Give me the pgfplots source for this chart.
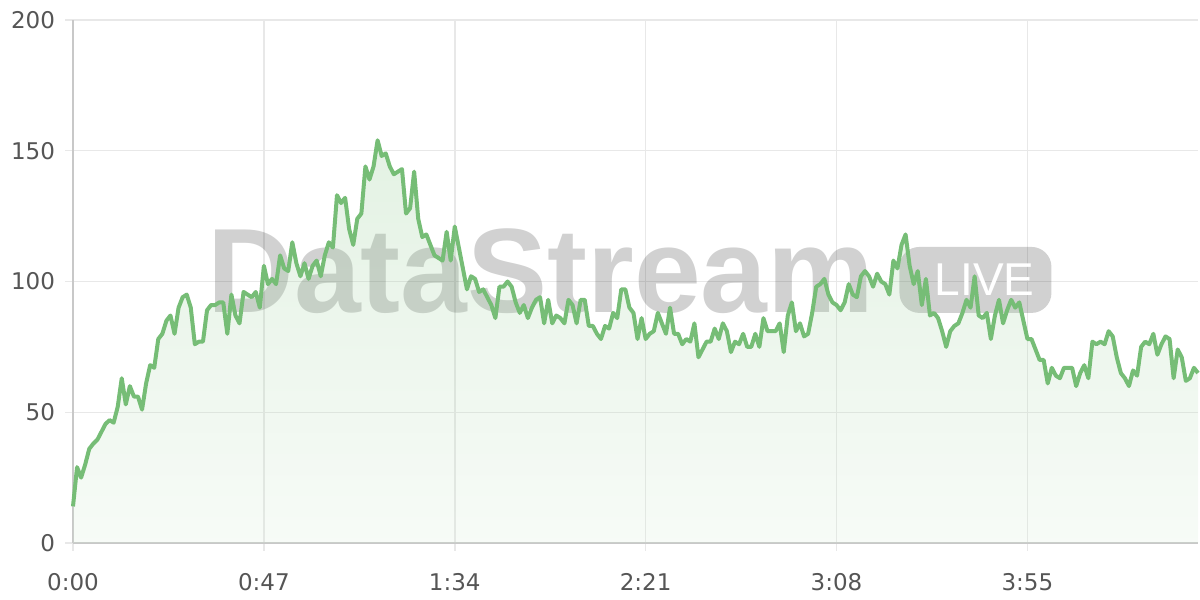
\documentclass[border=0pt]{standalone}
\usepackage{fontspec}
\setmainfont{DejaVu Sans}
\newfontfamily\wmfont{Liberation Sans}
\usepackage{pgfplots}
\usepackage{pgfplotstable}
\pgfplotsset{compat=1.18}
\definecolor{linegreen}{RGB}{118,189,118}
\definecolor{gridgray}{RGB}{232,232,232}
\definecolor{axisgray}{RGB}{200,200,200}
\definecolor{labelgray}{RGB}{85,85,85}
\pgfplotstableread{
t v
0 14
1 29
2 25
3 30
4 36
5 38
6 39.5
7 42.5
8 45.5
9 47
10 46
11 52
12 63
13 53
14 60
15 56
16 56
17 51
18 61
19 68
20 67
21 78
22 80
23 85
24 87
25 80
26 90
27 94
28 95
29 90
30 76
31 77
32 77
33 89
34 91
35 91
36 92
37 92
38 80
39 95
40 87
41 84
42 96
43 95
44 94
45 96
46 90
47 106
48 99
49 101
50 99
51 110
52 105
53 104
54 115
55 107
56 102
57 107
58 101
59 106
60 108
61 102
62 110
63 115
64 113
65 133
66 130
67 132
68 120
69 114
70 124
71 126
72 144
73 139
74 144
75 154
76 148
77 149
78 144
79 141
80 142
81 143
82 126
83 128
84 142
85 124
86 117
87 118
88 114
89 110
90 109
91 108
92 119
93 108
94 121
95 113
96 105
97 97
98 102
99 101
100 96
101 97
102 94
103 91
104 86
105 98
106 98
107 100
108 98
109 92
110 88
111 91
112 86
113 90
114 93
115 94
116 84
117 93
118 84
119 87
120 86
121 84
122 93
123 91
124 84
125 93
126 93
127 83
128 83
129 80
130 78
131 83
132 82
133 88
134 86
135 97
136 97
137 90
138 88
139 78
140 86
141 78
142 80
143 81
144 88
145 84
146 80
147 90
148 80
149 80
150 76
151 78
152 77
153 84
154 71
155 74
156 77
157 77
158 82
159 78
160 84
161 81
162 73
163 77
164 76
165 80
166 75
167 75
168 80
169 75
170 86
171 81
172 81
173 81
174 84
175 73
176 87
177 92
178 81
179 84
180 79
181 80
182 88
183 98
184 99
185 101
186 95
187 92
188 91
189 89
190 92
191 99
192 95
193 94
194 102
195 104
196 102
197 98
198 103
199 100
200 99
201 95
202 108
203 105
204 114
205 118
206 106
207 99
208 104
209 91
210 101
211 87
212 88
213 86
214 81
215 75
216 81
217 83
218 84
219 88
220 93
221 90
222 102
223 87
224 86
225 88
226 78
227 87
228 93
229 84
230 89
231 93
232 90
233 92
234 85
235 78
236 78
237 74
238 70
239 70
240 61
241 67
242 64
243 63
244 67
245 67
246 67
247 60
248 65
249 68
250 63
251 77
252 76
253 77
254 76
255 81
256 79
257 71
258 65
259 63
260 60
261 66
262 64
263 75
264 77
265 76
266 80
267 72
268 76
269 79
270 78
271 63
272 74
273 71
274 62
275 63
276 67
277 65
}\datatable
\begin{document}
\begin{tikzpicture}
\path[use as bounding box] (-36.5pt,-28.5pt) rectangle (563.5pt,271.5pt);
\begin{axis}[
  scale only axis, width=562.5pt, height=261.5pt,
  xmin=0, xmax=277, ymin=0, ymax=200,
  axis x line*=bottom, axis y line*=left,
  xtick={0,47,94,141,188,235},
  xticklabels={0:00,0:47,1:34,2:21,3:08,3:55},
  ytick={0,50,100,150,200},
  /pgf/number format/assume math mode=true,
  grid=major,
  major grid style={draw=gridgray, line width=0.75pt},
  tick align=outside, major tick length=4pt,
  tick style={draw=gridgray, line width=0.75pt},
  axis line style={draw=axisgray, line width=0.75pt},
  tick label style={font=\fontsize{11.5}{13}\selectfont, text=labelgray},
  yticklabel style={xshift=-1.5pt},
  xticklabel style={yshift=-7.5pt},
  clip=false,
]
\node[anchor=base west, inner sep=0pt, text=black, text opacity=0.18,
      font=\wmfont\bfseries\fontsize{60}{60}\selectfont]
      at (axis cs:33,88) {DataStream};
\node[fill=black, fill opacity=0.18, rounded corners=10pt,
      minimum width=76pt, minimum height=33pt, inner sep=0pt]
      at (axis cs:222.2,100.6) {};
\node[text=white, inner sep=0pt,
      font=\wmfont\fontsize{23}{23}\selectfont]
      at (axis cs:224.5,100.6) {LIVE};
\addplot[draw=none, top color=linegreen, bottom color=linegreen!30,
         fill opacity=0.2] table[x=t,y=v]{\datatable} \closedcycle;
\addplot[linegreen, line width=2pt, line join=round, mark=none]
         table[x=t,y=v]{\datatable};
\end{axis}
\end{tikzpicture}
\end{document}
